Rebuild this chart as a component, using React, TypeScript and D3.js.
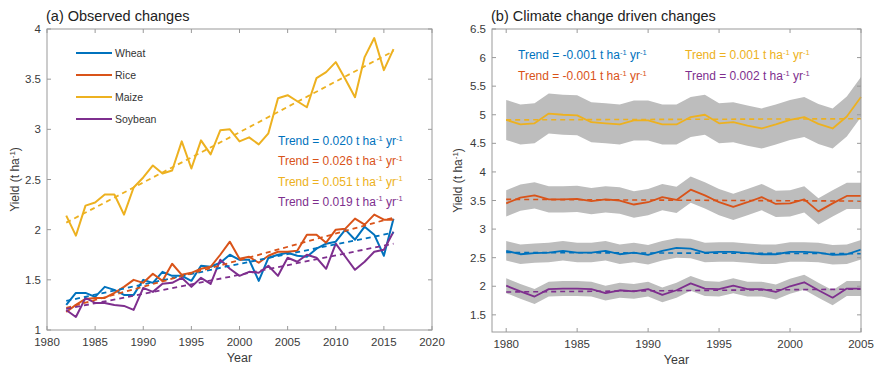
import React from 'react';
import * as d3 from 'd3';

// observed yields (panel a), 1982-2016
const yearsA = d3.range(1982, 2017);
const wheatObs = [1.25, 1.37, 1.37, 1.33, 1.43, 1.40, 1.35, 1.35, 1.50, 1.47, 1.58, 1.54, 1.54, 1.49, 1.64, 1.63, 1.67, 1.75, 1.70, 1.70, 1.49, 1.72, 1.75, 1.77, 1.74, 1.73, 1.81, 1.86, 1.88, 2.00, 1.90, 2.03, 1.95, 1.74, 2.11];
const riceObs = [1.18, 1.25, 1.31, 1.32, 1.32, 1.37, 1.43, 1.50, 1.47, 1.56, 1.49, 1.66, 1.55, 1.57, 1.61, 1.63, 1.75, 1.88, 1.71, 1.73, 1.67, 1.74, 1.78, 1.78, 1.79, 1.95, 1.95, 1.87, 2.00, 2.01, 2.11, 2.05, 2.15, 2.10, 2.10];
const maizeObs = [2.14, 1.94, 2.24, 2.27, 2.35, 2.35, 2.15, 2.42, 2.52, 2.64, 2.56, 2.59, 2.88, 2.61, 2.89, 2.75, 2.99, 3.00, 2.88, 2.92, 2.85, 2.96, 3.31, 3.34, 3.28, 3.22, 3.51, 3.57, 3.67, 3.50, 3.32, 3.72, 3.91, 3.59, 3.80];
const soyObs = [1.20, 1.13, 1.32, 1.27, 1.27, 1.25, 1.24, 1.20, 1.42, 1.38, 1.46, 1.47, 1.52, 1.43, 1.52, 1.46, 1.70, 1.61, 1.54, 1.58, 1.57, 1.64, 1.54, 1.72, 1.68, 1.75, 1.72, 1.61, 1.86, 1.73, 1.60, 1.68, 1.78, 1.80, 1.98];
// trend lines (1982, 1999, 2016)
const trendYearsA = [1982, 1999, 2016];
const wheatTrendA = [1.29, 1.64, 1.97];
const riceTrendA = [1.22, 1.67, 2.12];
const maizeTrendA = [2.07, 2.92, 3.78];
const soyTrendA = [1.21, 1.53, 1.86];

// climate-driven yields (panel b), 1980-2005
const yearsB = d3.range(1980, 2006);
const wheatClim = [2.62, 2.56, 2.58, 2.59, 2.62, 2.59, 2.59, 2.62, 2.56, 2.59, 2.55, 2.62, 2.67, 2.66, 2.59, 2.60, 2.60, 2.58, 2.56, 2.56, 2.60, 2.60, 2.59, 2.55, 2.56, 2.64];
const riceClim = [3.45, 3.55, 3.59, 3.52, 3.52, 3.53, 3.49, 3.52, 3.50, 3.43, 3.47, 3.56, 3.51, 3.69, 3.59, 3.47, 3.39, 3.47, 3.56, 3.44, 3.45, 3.52, 3.31, 3.45, 3.58, 3.58];
const maizeClim = [4.91, 4.83, 4.85, 5.02, 5.00, 4.99, 4.87, 4.85, 4.83, 4.90, 4.90, 4.83, 4.83, 4.96, 5.00, 4.85, 4.87, 4.81, 4.76, 4.83, 4.91, 4.96, 4.84, 4.76, 4.97, 5.31];
const soyClim = [2.01, 1.91, 1.82, 1.95, 1.96, 1.96, 1.95, 1.88, 1.93, 1.91, 1.95, 1.85, 1.93, 2.05, 1.96, 1.95, 2.01, 1.95, 1.95, 1.90, 2.00, 2.07, 1.93, 1.80, 1.96, 1.96];
// half-width of the grey uncertainty band
const bandHalf = { wheat: 0.17, rice: 0.23, maize: 0.35, soybean: 0.13 };
const trendYearsB = [1980, 2005];
const wheatTrendB = [2.59, 2.57];
const riceTrendB = [3.52, 3.49];
const maizeTrendB = [4.91, 4.93];
const soyTrendB = [1.90, 1.95];

const crops = ['Wheat', 'Rice', 'Maize', 'Soybean'];
const colors = ['#0072BD', '#D95319', '#EDB120', '#7E2F8E'];
const trendLabelsA = ['0.020', '0.026', '0.051', '0.019'];
const trendLabelsB = ['-0.001', '-0.001', '0.001', '0.002'];

const FONT = 'Liberation Sans, Arial, Helvetica, sans-serif';
const AXIS = '#9a9a9a';
const TXT = '#3a3a3a';

function Unit({ pre }: { pre: string }) {
  return (
    <>
      {pre} t ha<tspan dy={-4.5} fontSize="7.5">-1</tspan>
      <tspan dy={4.5}> yr</tspan><tspan dy={-4.5} fontSize="7.5">-1</tspan>
    </>
  );
}

function Frame({ x, y, xTicks, yTicks, fmtY, title, ylabX }: any) {
  const [l, r] = x.range();
  const [b, t] = y.range();
  return (
    <g fontFamily={FONT}>
      <rect x={l} y={t} width={r - l} height={b - t} fill="none" stroke={AXIS} strokeWidth={1} />
      {xTicks.map((v: number) => (
        <g key={'x' + v}>
          <line x1={x(v)} x2={x(v)} y1={b} y2={b - 4} stroke={AXIS} />
          <line x1={x(v)} x2={x(v)} y1={t} y2={t + 4} stroke={AXIS} />
          <text x={x(v)} y={b + 16} textAnchor="middle" fontSize="11.5" fill={TXT}>{v}</text>
        </g>
      ))}
      {yTicks.map((v: number) => (
        <g key={'y' + v}>
          <line x1={l} x2={l + 4} y1={y(v)} y2={y(v)} stroke={AXIS} />
          <line x1={r} x2={r - 4} y1={y(v)} y2={y(v)} stroke={AXIS} />
          <text x={l - 6} y={y(v) + 4} textAnchor="end" fontSize="11.5" fill={TXT}>{fmtY(v)}</text>
        </g>
      ))}
      <text x={(l + r) / 2} y={b + 32} textAnchor="middle" fontSize="12.5" fill={TXT}>Year</text>
      <text transform={`translate(${ylabX},${(t + b) / 2}) rotate(-90)`} textAnchor="middle" fontSize="12" fill={TXT}>
        Yield (t ha<tspan dy={-4} fontSize="8">-1</tspan><tspan dy={4}>)</tspan>
      </text>
      <text x={l - 1} y={t - 8} fontSize="14.5" fill="#222">{title}</text>
    </g>
  );
}

export default function App() {
  // panel a
  const xA = d3.scaleLinear().domain([1980, 2020]).range([47, 432]);
  const yA = d3.scaleLinear().domain([1, 4]).range([330, 29]);
  const lineA = d3.line<number>().x((_, i) => xA(yearsA[i])).y(d => yA(d));
  const trendA = d3.line<number>().x((_, i) => xA(trendYearsA[i])).y(d => yA(d));
  const obs = [wheatObs, riceObs, maizeObs, soyObs];
  const trA = [wheatTrendA, riceTrendA, maizeTrendA, soyTrendA];

  // panel b
  const xB = d3.scaleLinear().domain([1979, 2005]).range([492, 861]);
  const yB = d3.scaleLinear().domain([1.2, 6.5]).range([332, 29]);
  const lineB = d3.line<number>().x((_, i) => xB(yearsB[i])).y(d => yB(d));
  const trendB = d3.line<number>().x((_, i) => xB(trendYearsB[i])).y(d => yB(d));
  const clim = [wheatClim, riceClim, maizeClim, soyClim];
  const halves = [bandHalf.wheat, bandHalf.rice, bandHalf.maize, bandHalf.soybean];
  const trB = [wheatTrendB, riceTrendB, maizeTrendB, soyTrendB];

  return (
    <svg width={877} height={367} style={{ position: 'absolute', left: 0, top: 0, background: '#fff' }}>
      {/* panel a */}
      <g>
        {obs.map((s, i) => (
          <path key={'la' + i} d={lineA(s) || ''} fill="none" stroke={colors[i]} strokeWidth={2} strokeLinejoin="round" />
        ))}
        {trA.map((s, i) => (
          <path key={'ta' + i} d={trendA(s) || ''} fill="none" stroke={colors[i]} strokeWidth={1.8} strokeDasharray="5,4" />
        ))}
        <Frame x={xA} y={yA} xTicks={d3.range(1980, 2021, 5)} yTicks={d3.range(1, 4.01, 0.5)}
          fmtY={(v: number) => d3.format('~g')(v)} title="(a)  Observed changes" ylabX={19} />
        <g fontFamily={FONT}>
          {crops.map((c, i) => (
            <g key={'lg' + i}>
              <line x1={76} x2={112} y1={53 + i * 22} y2={53 + i * 22} stroke={colors[i]} strokeWidth={2} />
              <text x={115} y={57 + i * 22} fontSize="10.5" fill="#333">{c}</text>
            </g>
          ))}
          {trendLabelsA.map((t, i) => (
            <text key={'tla' + i} x={278} y={145 + i * 20.3} fontSize="12" fill={colors[i]}>
              <Unit pre={`Trend = ${t}`} />
            </text>
          ))}
        </g>
      </g>

      {/* panel b */}
      <g>
        {clim.map((s, i) => (
          <path key={'ba' + i}
            d={d3.area<number>().x((_, j) => xB(yearsB[j])).y0(d => yB(d - halves[i])).y1(d => yB(d + halves[i]))(s) || ''}
            fill="#bdbdbd" />
        ))}
        {trB.map((s, i) => (
          <path key={'tb' + i} d={trendB(s) || ''} fill="none" stroke={colors[i]} strokeWidth={1.6} strokeDasharray="5,4" />
        ))}
        {clim.map((s, i) => (
          <path key={'lb' + i} d={lineB(s) || ''} fill="none" stroke={colors[i]} strokeWidth={1.8} strokeLinejoin="round" />
        ))}
        <Frame x={xB} y={yB} xTicks={d3.range(1980, 2006, 5)} yTicks={d3.range(1.5, 6.51, 0.5)}
          fmtY={(v: number) => d3.format('~g')(v)} title="(b) Climate change driven changes" ylabX={462} />
        <g fontFamily={FONT}>
          {trendLabelsB.map((t, i) => (
            <text key={'tlb' + i} x={i < 2 ? 518 : 685} y={i % 2 === 0 ? 59 : 80} fontSize="12" fill={colors[i]}>
              <Unit pre={`Trend = ${t}`} />
            </text>
          ))}
        </g>
      </g>
    </svg>
  );
}
